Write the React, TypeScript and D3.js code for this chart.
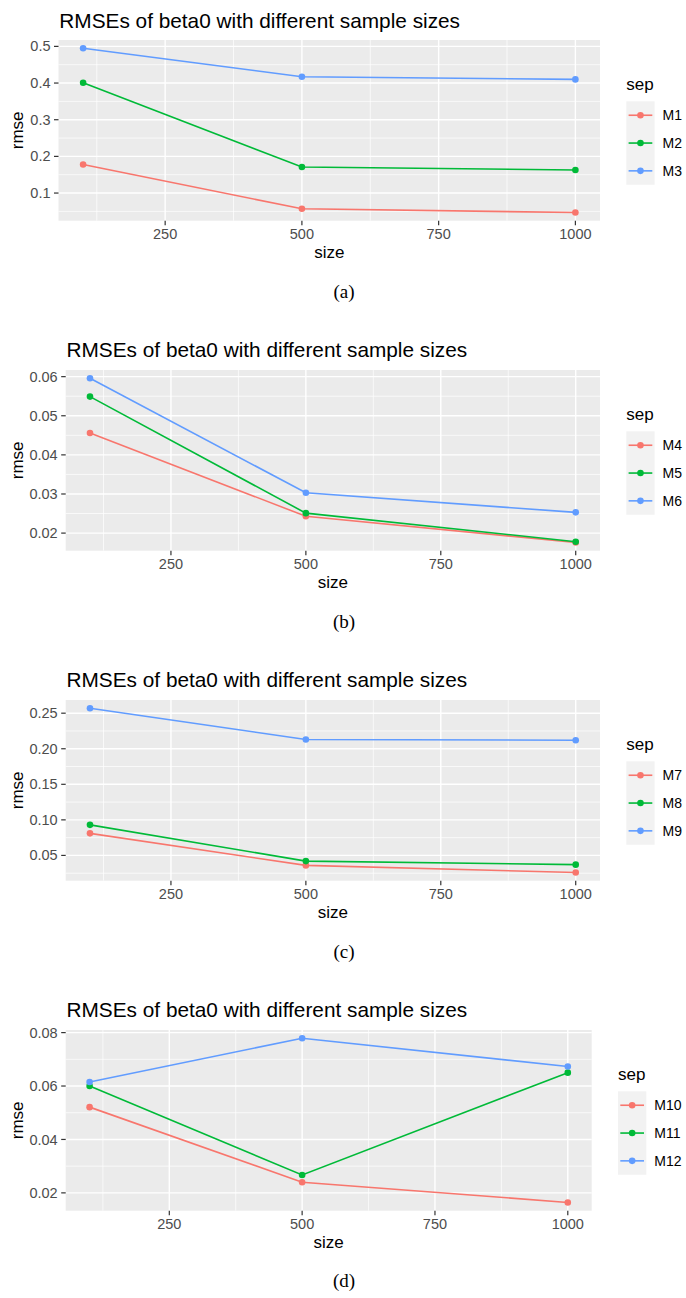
import React from "react";
import * as d3 from "d3";

// ---- data ----
const sizes = [100, 500, 1000];
const xTicks = [250, 500, 750, 1000];

const seriesA = ["M1", "M2", "M3"];
const rmseM1 = [0.178, 0.057, 0.047];
const rmseM2 = [0.401, 0.171, 0.163];
const rmseM3 = [0.495, 0.417, 0.410];
const yTicksA = [0.1, 0.2, 0.3, 0.4, 0.5];

const seriesB = ["M4", "M5", "M6"];
const rmseM4 = [0.0456, 0.0243, 0.0176];
const rmseM5 = [0.0549, 0.0251, 0.0178];
const rmseM6 = [0.0596, 0.0303, 0.0253];
const yTicksB = [0.02, 0.03, 0.04, 0.05, 0.06];

const seriesC = ["M7", "M8", "M9"];
const rmseM7 = [0.081, 0.036, 0.026];
const rmseM8 = [0.093, 0.042, 0.037];
const rmseM9 = [0.257, 0.213, 0.212];
const yTicksC = [0.05, 0.1, 0.15, 0.2, 0.25];

const seriesD = ["M10", "M11", "M12"];
const rmseM10 = [0.0521, 0.024, 0.0164];
const rmseM11 = [0.06, 0.0267, 0.065];
const rmseM12 = [0.0615, 0.0779, 0.0673];
const yTicksD = [0.02, 0.04, 0.06, 0.08];

const colors = ["#F8766D", "#00BA38", "#619CFF"];
const title = "RMSEs of beta0 with different sample sizes";

const FONT = "'Liberation Sans', Arial, Helvetica, sans-serif";

type PanelProps = {
  names: string[];
  values: number[][];
  yTicks: number[];
  fmt: string;
  left: number;
  right: number;
  top: number;
  bottom: number;
  titleY: number;
  captionY: number;
  caption: string;
};

function minorOf(ticks: number[], lo: number, hi: number) {
  const step = ticks[1] - ticks[0];
  const out: number[] = [];
  const all = [ticks[0] - step, ...ticks, ticks[ticks.length - 1] + step];
  for (let i = 0; i < all.length - 1; i++) {
    const m = (all[i] + all[i + 1]) / 2;
    if (m >= lo && m <= hi) out.push(m);
  }
  return out;
}

function Panel(p: PanelProps) {
  const xExt = d3.extent(sizes) as [number, number];
  const xPad = (xExt[1] - xExt[0]) * 0.05;
  const x = d3
    .scaleLinear()
    .domain([xExt[0] - xPad, xExt[1] + xPad])
    .range([p.left, p.right]);
  const allY = p.values.flat();
  const yExt = d3.extent(allY) as [number, number];
  const yPad = (yExt[1] - yExt[0]) * 0.05;
  const y = d3
    .scaleLinear()
    .domain([yExt[0] - yPad, yExt[1] + yPad])
    .range([p.bottom, p.top]);
  const fmt = d3.format(p.fmt);
  const xMinor = minorOf(xTicks, x.domain()[0], x.domain()[1]);
  const yMinor = minorOf(p.yTicks, y.domain()[0], y.domain()[1]);
  const line = d3
    .line<number>()
    .x((_, i) => x(sizes[i]))
    .y((d) => y(d));

  const cy = (p.top + p.bottom) / 2;
  const boxLeft = p.right + 26.3;
  const boxW = 28.3;
  const keyH = 27.8;
  const boxTop = cy - 29;

  return (
    <g>
      <text x={p.left + 0.8} y={p.titleY} fontSize={20.8} fill="#000" fontFamily={FONT}>
        {title}
      </text>
      <rect x={p.left} y={p.top} width={p.right - p.left} height={p.bottom - p.top} fill="#EBEBEB" />
      {xMinor.map((v) => (
        <line key={"xm" + v} x1={x(v)} x2={x(v)} y1={p.top} y2={p.bottom} stroke="#fff" strokeWidth={0.7} />
      ))}
      {yMinor.map((v) => (
        <line key={"ym" + v} x1={p.left} x2={p.right} y1={y(v)} y2={y(v)} stroke="#fff" strokeWidth={0.7} />
      ))}
      {xTicks.map((v) => (
        <line key={"xM" + v} x1={x(v)} x2={x(v)} y1={p.top} y2={p.bottom} stroke="#fff" strokeWidth={1.4} />
      ))}
      {p.yTicks.map((v) => (
        <line key={"yM" + v} x1={p.left} x2={p.right} y1={y(v)} y2={y(v)} stroke="#fff" strokeWidth={1.4} />
      ))}
      {p.values.map((vals, i) => (
        <g key={"s" + i}>
          <path d={line(vals) || ""} fill="none" stroke={colors[i]} strokeWidth={1.6} />
          {vals.map((v, j) => (
            <circle key={j} cx={x(sizes[j])} cy={y(v)} r={3.3} fill={colors[i]} />
          ))}
        </g>
      ))}
      {/* x axis */}
      {xTicks.map((v) => (
        <g key={"xt" + v}>
          <line x1={x(v)} x2={x(v)} y1={p.bottom} y2={p.bottom + 4.5} stroke="#333" strokeWidth={1.2} />
          <text x={x(v)} y={p.bottom + 17.8} textAnchor="middle" fontSize={14.5} fill="#4D4D4D" fontFamily={FONT}>
            {v}
          </text>
        </g>
      ))}
      {/* y axis */}
      {p.yTicks.map((v) => (
        <g key={"yt" + v}>
          <line x1={p.left - 4.5} x2={p.left} y1={y(v)} y2={y(v)} stroke="#333" strokeWidth={1.2} />
          <text x={p.left - 8} y={y(v)} dy="0.35em" textAnchor="end" fontSize={14.5} fill="#4D4D4D" fontFamily={FONT}>
            {fmt(v)}
          </text>
        </g>
      ))}
      <text x={(p.left + p.right) / 2} y={p.bottom + 37.6} textAnchor="middle" fontSize={17} fill="#000" fontFamily={FONT}>
        size
      </text>
      <text
        transform={`translate(23.3,${cy}) rotate(-90)`}
        textAnchor="middle"
        fontSize={17}
        fill="#000"
        fontFamily={FONT}
      >
        rmse
      </text>
      {/* legend */}
      <text x={boxLeft} y={boxTop - 11} fontSize={17} fill="#000" fontFamily={FONT}>
        sep
      </text>
      <rect x={boxLeft} y={boxTop} width={boxW} height={keyH * 3} fill="#F2F2F2" />
      {p.names.map((n, i) => {
        const ky = boxTop + keyH / 2 + i * keyH;
        return (
          <g key={n}>
            <line x1={boxLeft + 2.3} x2={boxLeft + boxW - 2.3} y1={ky} y2={ky} stroke={colors[i]} strokeWidth={1.6} />
            <circle cx={boxLeft + boxW / 2} cy={ky} r={3.3} fill={colors[i]} />
            <text x={boxLeft + boxW + 8} y={ky} dy="0.35em" fontSize={14} fill="#000" fontFamily={FONT}>
              {n}
            </text>
          </g>
        );
      })}
      <text x={344} y={p.captionY} textAnchor="middle" fontSize={19} fill="#000" fontFamily="'Liberation Serif', 'DejaVu Serif', serif">
        {p.caption}
      </text>
    </g>
  );
}

export default function App() {
  return (
    <svg
      width={686}
      height={1298}
      style={{ position: "absolute", left: 0, top: 0, background: "#fff" }}
    >
      <rect x={0} y={0} width={686} height={1298} fill="#fff" />
      <Panel names={seriesA} values={[rmseM1, rmseM2, rmseM3]} yTicks={yTicksA} fmt=".1f"
        left={58.5} right={600} top={40} bottom={220.7} titleY={28} captionY={298} caption="(a)" />
      <Panel names={seriesB} values={[rmseM4, rmseM5, rmseM6]} yTicks={yTicksB} fmt=".2f"
        left={65.7} right={600} top={370} bottom={550.7} titleY={357} captionY={628} caption="(b)" />
      <Panel names={seriesC} values={[rmseM7, rmseM8, rmseM9]} yTicks={yTicksC} fmt=".2f"
        left={65.7} right={600} top={700} bottom={880.7} titleY={687} captionY={958} caption="(c)" />
      <Panel names={seriesD} values={[rmseM10, rmseM11, rmseM12]} yTicks={yTicksD} fmt=".2f"
        left={65.7} right={591.7} top={1030} bottom={1210.7} titleY={1016.7} captionY={1287} caption="(d)" />
    </svg>
  );
}
